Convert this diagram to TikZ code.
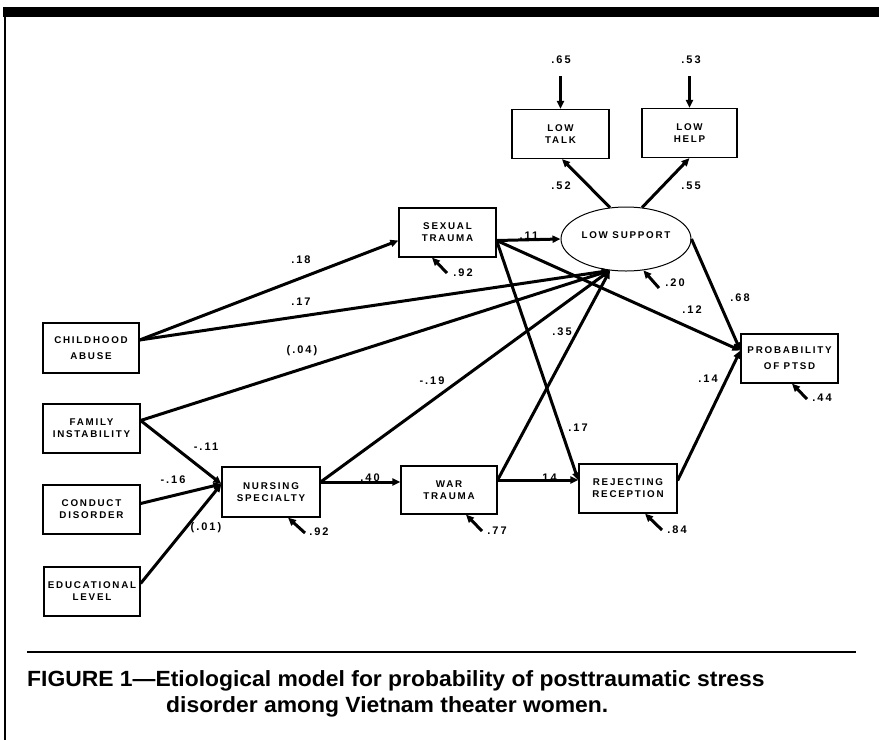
\documentclass[tikz,border=0pt]{standalone}
\usepackage{fontspec}
\usetikzlibrary{arrows.meta,shapes.geometric}
\newfontfamily\boxfont[LetterSpace=18]{Liberation Sans}
\newfontfamily\capfont[FakeStretch=1.04]{Liberation Sans}
\tikzset{
  box/.style={draw, line width=1.2pt, minimum width=97pt, minimum height=49pt, inner sep=0pt, align=center,
    font=\boxfont\bfseries\fontsize{9.8}{12}\selectfont},
  wide/.style={font=\boxfont\bfseries\fontsize{9.8}{16}\selectfont},
  lbl/.style={font=\boxfont\bfseries\fontsize{11}{13}\selectfont, inner sep=0pt},
  conn/.style={line width=3pt, -{Triangle[length=8pt,width=7pt]}},
  capt/.style={font=\capfont\bfseries\fontsize{22}{24}\selectfont, inner sep=0pt, anchor=base west}
}
\begin{document}
\begin{tikzpicture}[x=1pt,y=-1pt]
\useasboundingbox (0,0) rectangle (879,740);
% frame
\fill (3,7) rectangle (879,17);
\draw[line width=1.5pt] (5,17) -- (5,740);
\draw[line width=2pt] (27,652) -- (856,652);
% nodes
\node[box] (talk) at (560.5,134) {LOW\\TALK};
\node[box, minimum width=95pt] (help) at (689.5,133) {LOW\\HELP};
\node[box] (sex) at (447.5,232.5) {SEXUAL\\TRAUMA};
\node[draw, ellipse, line width=1pt, minimum width=130pt, minimum height=64pt, inner sep=0pt] (sup) at (626,239) {};
\node[lbl, font=\boxfont\bfseries\fontsize{9.8}{12}\selectfont] (suptxt) at (626,235) {LOW SUPPORT};
\node[box, wide] (ptsd) at (789.5,358.5) {PROBABILITY\\OF PTSD};
\node[box, minimum width=96pt, minimum height=48pt] (war) at (449,490) {WAR\\TRAUMA};
\node[box, minimum width=98pt] (rej) at (628,488.5) {REJECTING\\RECEPTION};
\node[box, minimum width=96pt, minimum height=50pt, wide] (child) at (91,348) {CHILDHOOD\\ABUSE};
\node[box] (fam) at (91.5,428.5) {FAMILY\\INSTABILITY};
\node[box] (cond) at (91.5,509.5) {CONDUCT\\DISORDER};
\node[box, minimum width=96pt] (edu) at (92,591.5) {EDUCATIONAL\\LEVEL};
\node[box, minimum width=98pt, minimum height=50pt] (nurs) at (271,492) {NURSING\\SPECIALTY};
% top error arrows
\coordinate (e65) at (560.5,76);
\coordinate (e53) at (689.5,76);
\draw[conn] (e65) -- (talk.north);
\draw[conn] (e53) -- (help.north);
\node[lbl] (l65) at (561,60) {.65};
\node[lbl] (l53) at (691,60) {.53};
% support -> indicators
\draw[conn] (sup.117) -- ([xshift=1.5pt]talk.south);
\draw[conn] (sup.63) -- (help.south);
\node[lbl] (l52) at (561,186) {.52};
\node[lbl] (l55) at (691,186) {.55};
% sexual trauma out
\draw[conn] ([yshift=-8pt]sex.east) -- (sup.west);
\draw[conn] ([yshift=-8pt]sex.east) -- ([yshift=8pt]ptsd.west);
\draw[conn] ([yshift=-8pt]sex.east) -- ([yshift=8pt]rej.west);
\node[lbl] (l11) at (529,236) {.11};
\node[lbl] (l12) at (692,310) {.12};
\node[lbl] (l17b) at (578,428) {.17};
% support -> ptsd
\draw[conn] (sup.east) -- ([yshift=8pt]ptsd.west);
\node[lbl] (l68) at (740,298) {.68};
% rejecting -> ptsd
\draw[conn] ([yshift=8pt]rej.east) -- ([yshift=8pt]ptsd.west);
\node[lbl] (l14b) at (708,379) {.14};
% childhood
\draw[conn] ([yshift=8pt]child.east) -- ([yshift=-8pt]sex.west);
\draw[conn] ([yshift=8pt]child.east) -- (sup.243);
\node[lbl] (l18) at (301,260) {.18};
\node[lbl] (l17a) at (301,302) {.17};
% family
\draw[conn] ([yshift=8pt]fam.east) -- (sup.243);
\draw[conn] ([yshift=8pt]fam.east) -- ([yshift=8pt]nurs.west);
\node[lbl] (l04) at (302,351) {(.04)};
\node[lbl] (l11n) at (206,447) {-.11};
% conduct, educational
\draw[conn] ([yshift=6pt]cond.east) -- ([yshift=8pt]nurs.west);
\draw[conn] ([yshift=8pt]edu.east) -- ([yshift=8pt]nurs.west);
\node[lbl] (l16) at (173,480) {-.16};
\node[lbl] (l01) at (206,528) {(.01)};
% nursing
\draw[conn] ([yshift=10pt]nurs.east) -- ([yshift=10pt]nurs.east -| war.west);
\draw[conn] ([yshift=10pt]nurs.east) -- (sup.243);
\node[lbl] (l40) at (370,478) {.40};
\node[lbl] (l19) at (432,381) {-.19};
% war
\draw[conn] ([yshift=10pt]war.east) -- (sup.243);
\draw[conn] ([yshift=10pt]war.east) -- ([yshift=10pt]war.east -| rej.west);
\node[lbl] (l35) at (562,332) {.35};
\node[lbl] (l14a) at (547,478) {.14};
% residual arrows
\coordinate (esx) at (447,273);
\coordinate (esup) at (659,288);
\coordinate (eptsd) at (807,399);
\coordinate (enurs) at (305,533);
\coordinate (ewar) at (482,531);
\coordinate (erej) at (662,530);
\draw[conn] (esx) -- ([xshift=-15.5pt]sex.south);
\draw[conn] (esup) -- (sup.299);
\draw[conn] (eptsd) -- ([xshift=2.5pt]ptsd.south);
\draw[conn] (enurs) -- ([xshift=17pt]nurs.south);
\draw[conn] (ewar) -- ([xshift=17pt]war.south);
\draw[conn] (erej) -- ([xshift=17pt]rej.south);
\node[lbl] (l92a) at (463,273) {.92};
\node[lbl] (l20) at (675,283) {.20};
\node[lbl] (l44) at (822,398) {.44};
\node[lbl] (l92b) at (319,532) {.92};
\node[lbl] (l77) at (497,531) {.77};
\node[lbl] (l84) at (677,530) {.84};
% caption
\node[capt] (cap1) at (27,686) {FIGURE 1—Etiological model for probability of posttraumatic stress};
\node[capt] (cap2) at (166,712) {disorder among Vietnam theater women.};
\end{tikzpicture}
\end{document}
